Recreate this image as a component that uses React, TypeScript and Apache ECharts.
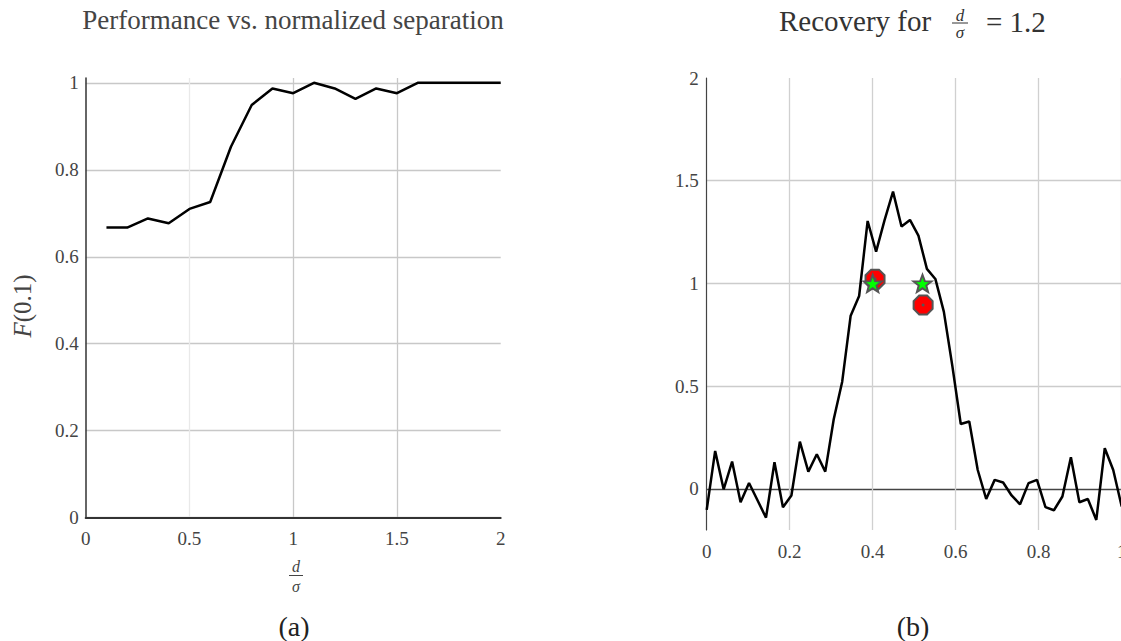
import React, { useEffect, useRef } from "react";
import * as echarts from "echarts";

// Panel (a): detection score against normalized separation d/sigma
const separations = [0.1, 0.2, 0.3, 0.4, 0.5, 0.6, 0.7, 0.8, 0.9, 1.0, 1.1, 1.2, 1.3, 1.4, 1.5, 1.6, 1.7, 1.8, 1.9, 2.0];
const fScores = [0.667, 0.667, 0.688, 0.677, 0.71, 0.726, 0.853, 0.949, 0.987, 0.976, 1.0, 0.987, 0.963, 0.987, 0.976, 1.0, 1.0, 1.0, 1.0, 1.0];

// Panel (b): noisy measured signal on a 50-sample grid
const sampleX = [
  0, 0.0204, 0.0408, 0.0612, 0.0816, 0.102, 0.1224, 0.1429, 0.1633, 0.1837,
  0.2041, 0.2245, 0.2449, 0.2653, 0.2857, 0.3061, 0.3265, 0.3469, 0.3673, 0.3878,
  0.4082, 0.4286, 0.449, 0.4694, 0.4898, 0.5102, 0.5306, 0.551, 0.5714, 0.5918,
  0.6122, 0.6327, 0.6531, 0.6735, 0.6939, 0.7143, 0.7347, 0.7551, 0.7755, 0.7959,
  0.8163, 0.8367, 0.8571, 0.8776, 0.898, 0.9184, 0.9388, 0.9592, 0.9796, 1,
];
const signal = [
  -0.102, 0.185, -0.002, 0.133, -0.065, 0.029, -0.055, -0.14, 0.13, -0.089,
  -0.032, 0.23, 0.084, 0.169, 0.084, 0.339, 0.522, 0.843, 0.939, 1.304,
  1.155, 1.308, 1.447, 1.277, 1.309, 1.233, 1.071, 1.022, 0.863, 0.6,
  0.316, 0.328, 0.092, -0.049, 0.044, 0.031, -0.032, -0.075, 0.028, 0.044,
  -0.089, -0.104, -0.037, 0.154, -0.065, -0.049, -0.151, 0.198, 0.092, -0.086,
];

// Ground-truth spikes and recovered spikes
const truePos = [0.4, 0.52];
const trueAmp = [1.0, 1.0];
const estPos = [0.4056, 0.5215];
const estAmp = [1.021, 0.895];

const SERIF = "'Liberation Serif', 'Times New Roman', serif";
const TICK_COLOR = "#444";
const CLEAR = "rgba(0,0,0,0)";

const OCTAGON = "path://M69.1 3.8 L96.2 30.9 L96.2 69.1 L69.1 96.2 L30.9 96.2 L3.8 69.1 L3.8 30.9 L30.9 3.8 Z";
const STAR =
  "path://M50 0 L62.3 33 L97.6 34.5 L70 56.5 L79.4 90.5 L50 71 L20.6 90.5 L30 56.5 L2.4 34.5 L37.7 33 Z";

function txt(
  text: string,
  x: number,
  y: number,
  size: number,
  fill: string,
  extra: Record<string, unknown> = {}
) {
  return {
    type: "text",
    x,
    y,
    silent: true,
    style: {
      text,
      fill,
      fontSize: size,
      fontFamily: SERIF,
      align: "center",
      verticalAlign: "middle",
      textAlign: "center",
      textVerticalAlign: "middle",
      ...extra,
    },
  };
}

function fraction(cx: number, yTop: number, yBar: number, yBot: number, half: number, size: number, color: string) {
  return [
    txt("d", cx, yTop, size, color, { fontStyle: "italic" }),
    {
      type: "line",
      silent: true,
      shape: { x1: cx - half, y1: yBar, x2: cx + half, y2: yBar },
      style: { stroke: color, lineWidth: 1 },
    },
    txt("σ", cx, yBot, size, color, { fontStyle: "italic" }),
  ];
}

export default function App() {
  const ref = useRef<HTMLDivElement>(null);

  useEffect(() => {
    if (!ref.current) return;
    const chart = echarts.init(ref.current, null, { renderer: "svg" });

    const labelStyle = { color: TICK_COLOR, fontFamily: SERIF, fontSize: 19 };

    chart.setOption({
      animation: false,
      backgroundColor: "#fff",
      textStyle: { fontFamily: SERIF },
      grid: [
        { left: 85.7, top: 78, width: 415, height: 439.7, outerBoundsMode: "none", containLabel: false },
        { left: 706.7, top: 78, width: 415, height: 452, outerBoundsMode: "none", containLabel: false },
      ],
      xAxis: [
        {
          gridIndex: 0,
          type: "value",
          min: 0,
          max: 2,
          interval: 0.5,
          axisLine: { show: true, lineStyle: { color: "#333", width: 2 } },
          axisTick: { show: false },
          axisLabel: { ...labelStyle, margin: 11 },
          splitLine: {
            show: true,
            lineStyle: { color: [CLEAR, "#e9e9e9", "#c8c8c8", "#c8c8c8", CLEAR], width: 1.3 },
          },
        },
        {
          gridIndex: 1,
          type: "value",
          min: 0,
          max: 1,
          interval: 0.2,
          axisLine: { show: false, onZero: false },
          axisTick: { show: false },
          axisLabel: { ...labelStyle, margin: 12 },
          splitLine: {
            show: true,
            lineStyle: { color: [CLEAR, "#d0d0d0", "#d0d0d0", "#d0d0d0", "#d0d0d0", "#d0d0d0"], width: 1.3 },
          },
        },
      ],
      yAxis: [
        {
          gridIndex: 0,
          type: "value",
          min: 0,
          max: 1.011,
          interval: 0.2,
          axisLine: { show: true, lineStyle: { color: "#333", width: 1.5 } },
          axisTick: { show: false },
          axisLabel: { ...labelStyle, margin: 7, showMaxLabel: false, padding: [8, 0, 0, 0] },
          splitLine: {
            show: true,
            lineStyle: {
              color: ["#c8c8c8", "#c8c8c8", "#c8c8c8", "#c8c8c8", "#c8c8c8", "#c8c8c8", CLEAR],
              width: 1.3,
            },
          },
        },
        {
          gridIndex: 1,
          type: "value",
          min: -0.2,
          max: 2,
          splitNumber: 4,
          axisLine: { show: true, onZero: false, lineStyle: { color: "#444", width: 1.2 } },
          axisTick: { show: false },
          axisLabel: { ...labelStyle, margin: 8, showMinLabel: false, padding: [8, 0, 0, 0] },
          splitLine: {
            show: true,
            lineStyle: { color: [CLEAR, "#444", "#cccccc", "#cccccc", "#cccccc", CLEAR], width: 1.3 },
          },
        },
      ],
      series: [
        {
          type: "line",
          xAxisIndex: 0,
          yAxisIndex: 0,
          data: separations.map((s, i) => [s, fScores[i]]),
          showSymbol: false,
          lineStyle: { color: "#000", width: 2.5 },
          z: 3,
        },
        {
          type: "line",
          xAxisIndex: 1,
          yAxisIndex: 1,
          data: sampleX.map((x, i) => [x, signal[i]]),
          showSymbol: false,
          lineStyle: { color: "#000", width: 2.5 },
          z: 3,
        },
        {
          type: "scatter",
          xAxisIndex: 1,
          yAxisIndex: 1,
          data: estPos.map((x, i) => [x, estAmp[i]]),
          symbol: OCTAGON,
          symbolSize: 19,
          itemStyle: { color: "#ff0000", borderColor: "#555", borderWidth: 2, opacity: 1 },
          z: 4,
        },
        {
          type: "scatter",
          xAxisIndex: 1,
          yAxisIndex: 1,
          data: estPos.map((x, i) => [x, estAmp[i]]),
          symbol: "circle",
          symbolSize: 3,
          itemStyle: { color: "#555", opacity: 1 },
          z: 5,
        },
        {
          type: "scatter",
          xAxisIndex: 1,
          yAxisIndex: 1,
          data: truePos.map((x, i) => [x, trueAmp[i]]),
          symbol: STAR,
          symbolSize: 18,
          symbolKeepAspect: true,
          itemStyle: { color: "#00ff00", borderColor: "#555", borderWidth: 2, opacity: 1 },
          z: 6,
        },
      ],
      graphic: [
        txt("Performance vs. normalized separation", 293, 20, 27, "#444"),
        txt("Recovery for", 779, 21, 29, "#333", { align: "left", textAlign: "left" }),
        ...fraction(960, 15, 23, 32, 8, 17, "#333"),
        txt("= 1.2", 986, 22, 29, "#333", { align: "left", textAlign: "left" }),
        {
          type: "text",
          x: 22,
          y: 306,
          rotation: Math.PI / 2,
          silent: true,
          style: {
            text: "{i|F}(0.1)",
            fill: "#444",
            fontSize: 25,
            fontFamily: SERIF,
            align: "center",
            verticalAlign: "middle",
            textAlign: "center",
            textVerticalAlign: "middle",
            rich: {
              i: { fontStyle: "italic", fontSize: 25, fontFamily: SERIF, fill: "#444", color: "#444" },
            },
          },
        },
        ...fraction(296, 566, 575.5, 586, 7, 16, "#444"),
        txt("(a)", 294, 626, 28, "#222"),
        txt("(b)", 913, 626, 28, "#222"),
      ],
    });

    return () => chart.dispose();
  }, []);

  return (
    <div
      ref={ref}
      style={{ position: "fixed", left: 0, top: 0, width: 1121, height: 641, background: "#fff" }}
    />
  );
}
